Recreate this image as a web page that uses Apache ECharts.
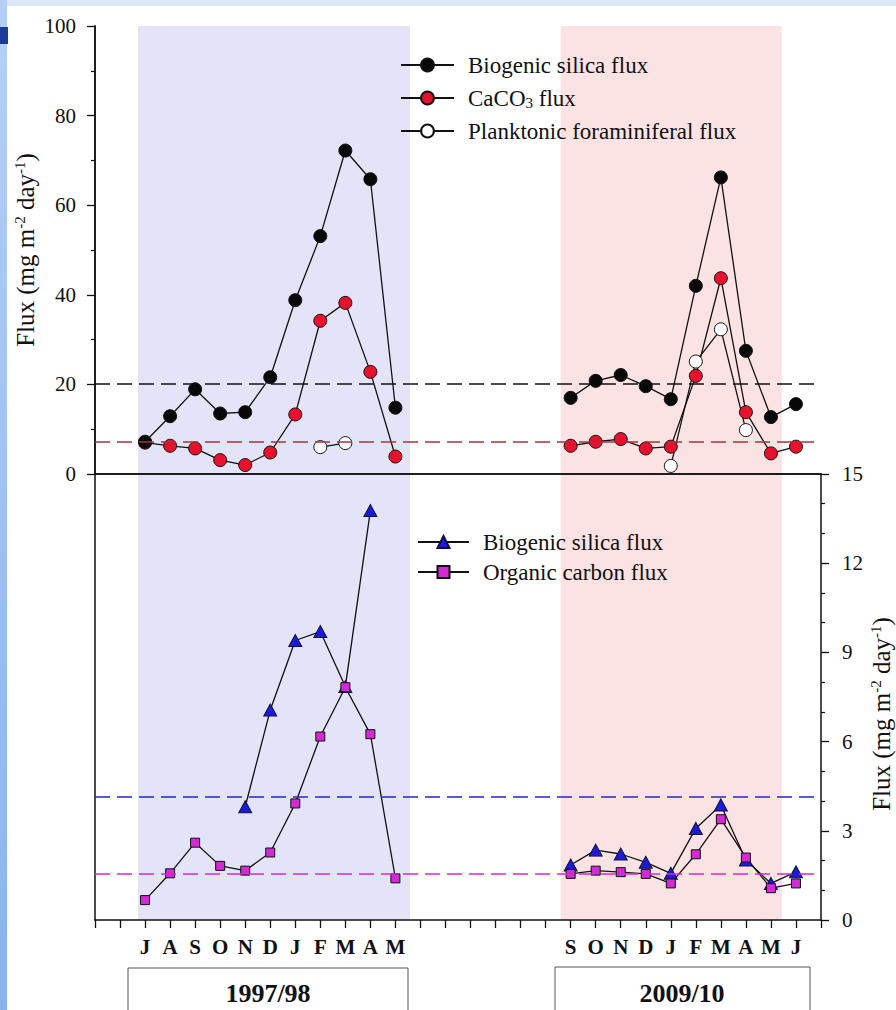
<!DOCTYPE html>
<html><head><meta charset="utf-8">
<script src="https://cdn.jsdelivr.net/npm/echarts@6/dist/echarts.min.js"></script>
<style>
html,body{margin:0;padding:0;width:896px;height:1010px;overflow:hidden;background:#fff;}
#stripTop{position:absolute;left:0;top:0;width:896px;height:6px;background:#dbe8f8;}
#stripLeft{position:absolute;left:0;top:0;width:7px;height:1010px;background:linear-gradient(#b4d0f6,#86b4ee);}
#blk{position:absolute;left:0;top:27px;width:8px;height:17px;background:#1a3c9c;}
#chart{position:absolute;left:0;top:0;width:896px;height:1010px;}
</style></head><body>
<div id="stripTop"></div><div id="stripLeft"></div><div id="blk"></div>
<div id="chart"></div>
<script>
// x positions: one slot per month; labels per slot
const monthLabels = ['', '', 'J','A','S','O','N','D','J','F','M','A','M','','','','','','','S','O','N','D','J','F','M','A','M','J',''];
const periods = ['1997/98', '2009/10'];
const start97 = 2;   // slot of first month (J) of 1997/98
const start09 = 19;  // slot of first month (S) of 2009/10
const shade97 = [1.72, 12.58];
const shade09 = [18.6, 27.43];

// Top panel (mg m-2 day-1), 1997/98: J A S O N D J F M A M
const bsi97   = [7.2, 12.9, 18.9, 13.5, 13.8, 21.6, 38.8, 53.1, 72.2, 65.8, 14.8];
const caco97  = [7.0, 6.3, 5.7, 3.1, 2.0, 4.8, 13.3, 34.2, 38.2, 22.8, 3.9];
const foram97 = [null, null, null, null, null, null, null, 6.0, 6.9, null, null];
// 2009/10: S O N D J F M A M J
const bsi09   = [17.0, 20.8, 22.1, 19.6, 16.7, 42.0, 66.2, 27.5, 12.7, 15.6];
const caco09  = [6.3, 7.2, 7.8, 5.7, 6.1, 21.9, 43.7, 13.8, 4.6, 6.1];
const foram09 = [null, null, null, null, 1.8, 25.1, 32.3, 9.8, null, null];
const meanTop = [20.2, 7.1];          // biogenic silica, CaCO3

// Bottom panel
const bsiB97  = [null, null, null, null, 3.81, 7.06, 9.40, 9.70, 7.85, 13.77, null];
const corg97  = [0.67, 1.57, 2.6, 1.82, 1.66, 2.27, 3.92, 6.17, 7.83, 6.25, 1.40];
const bsiB09  = [1.85, 2.35, 2.22, 1.94, 1.57, 3.08, 3.87, 2.02, 1.23, 1.62];
const corg09  = [1.55, 1.66, 1.61, 1.55, 1.23, 2.21, 3.39, 2.10, 1.07, 1.23];
const meanBottom = [4.14, 1.55];      // biogenic silica, organic carbon

function pts(x0, vals){ return vals.map((v,i)=>[x0+i, v==null?'-':v]); }
function both(a, b){ return pts(start97, a).concat([[15,'-']], pts(start09, b)); }

const FONT = "'Liberation Serif','Times New Roman',serif";
const INK = '#111';
const lineSt = {color: INK, width: 1.3};
const shadeArea = {silent:true, itemStyle:{color:'#e4e4f8'}, data:[
  [{xAxis: shade97[0], itemStyle:{color:'#e4e4f8'}}, {xAxis: shade97[1]}],
  [{xAxis: shade09[0], itemStyle:{color:'#fce3e3'}}, {xAxis: shade09[1]}]
]};
function meanLine(v, color){
  return {silent:true, symbol:'none', label:{show:false},
    lineStyle:{color:color, type:[15,7], width:1.6}, data:[{yAxis:v}]};
}
function nameStyle(pad){
  return {
    fontFamily: FONT, fontSize: 25, color: INK, lineHeight: 27, padding: pad,
    rich: {sup: {fontFamily: FONT, fontSize: 15, color: INK, lineHeight: 16, verticalAlign: 'top'}}
  };
}
const axisName = 'Flux (mg m{sup|-2} day{sup|-1})';
const legendText = {
  fontFamily: FONT, fontSize: 23, color: INK, lineHeight: 24, padding:[0,0,0,9],
  rich: {sub: {fontFamily: FONT, fontSize: 15, color: INK, lineHeight: 8, verticalAlign: 'bottom'}}
};
const axLine = {show:true, lineStyle:{color: INK, width:1.5}};

const option = {
  animation: false,
  grid: [
    {left:95, top:26, width:726, height:448, outerBoundsMode:'none'},
    {left:95, top:474, width:726, height:446, outerBoundsMode:'none'}
  ],
  xAxis: [
    {gridIndex:0, type:'value', min:0, max:29, interval:1, position:'top', z:3,
     axisLine:axLine, axisTick:{show:false}, axisLabel:{show:false}, splitLine:{show:false}},
    {gridIndex:0, type:'value', min:0, max:29, interval:1, position:'bottom', z:3,
     axisLine:axLine, axisTick:{show:false}, axisLabel:{show:false}, splitLine:{show:false}},
    {gridIndex:1, type:'value', min:0, max:29, interval:1, position:'bottom', z:3,
     axisLine:axLine, axisTick:{show:true, length:8, lineStyle:{color:INK, width:1.3}},
     axisLabel:{show:true, margin:16, fontFamily:FONT, fontSize:21, fontWeight:'bold', color:INK,
       formatter: v => monthLabels[v] || ''},
     splitLine:{show:false}}
  ],
  yAxis: [
    {gridIndex:0, type:'value', min:0, max:100, interval:20, position:'left', z:3,
     axisLine:axLine, axisTick:{show:true, length:8, lineStyle:{color:INK, width:1.3}},
     minorTick:{show:true, splitNumber:2, length:4, lineStyle:{color:INK, width:1.2}},
     axisLabel:{margin:19, fontFamily:FONT, fontSize:21, color:INK}, splitLine:{show:false},
     name: axisName, nameLocation:'middle', nameGap:56, nameRotate:90, nameMoveOverlap:false,
     nameTextStyle: nameStyle(0)},
    {gridIndex:0, type:'value', min:0, max:100, position:'right', z:3,
     axisLine:axLine, axisTick:{show:false}, axisLabel:{show:false}, splitLine:{show:false}},
    {gridIndex:1, type:'value', min:0, max:15, position:'left', z:3,
     axisLine:axLine, axisTick:{show:false}, axisLabel:{show:false}, splitLine:{show:false}},
    {gridIndex:1, type:'value', min:0, max:15, interval:3, position:'right', z:3,
     axisLine:axLine, axisTick:{show:true, length:8, lineStyle:{color:INK, width:1.3}},
     minorTick:{show:true, splitNumber:3, length:4, lineStyle:{color:INK, width:1.2}},
     axisLabel:{margin:21, fontFamily:FONT, fontSize:21, color:INK}, splitLine:{show:false},
     name: axisName, nameLocation:'middle', nameGap:47, nameRotate:90, nameMoveOverlap:false,
     nameTextStyle: nameStyle([0,34,0,0])}
  ],
  legend: [
    {data:['Biogenic silica flux','CaCO3 flux','Planktonic foraminiferal flux'],
     orient:'vertical', left:400, top:53, padding:0, itemWidth:53, itemHeight:16, itemGap:9,
     selectedMode:false, textStyle: legendText,
     formatter: n => n === 'CaCO3 flux' ? 'CaCO{sub|3} flux' : n},
    {data:['Biogenic silica flux ','Organic carbon flux'],
     orient:'vertical', left:417, top:530, padding:0, itemWidth:51, itemHeight:15, itemGap:6,
     selectedMode:false, textStyle: legendText,
     formatter: n => n.trim()}
  ],
  series: [
    {name:'CaCO3 flux', type:'line', xAxisIndex:1, yAxisIndex:0, data: both(caco97, caco09),
     symbol:'circle', symbolSize:13, lineStyle:lineSt,
     itemStyle:{color:'#e8112d', borderColor:INK, borderWidth:1},
     markArea: shadeArea, markLine: meanLine(meanTop[1], '#a8323e')},
    {name:'Planktonic foraminiferal flux', type:'line', xAxisIndex:1, yAxisIndex:0, data: both(foram97, foram09),
     symbol:'circle', symbolSize:13, lineStyle:lineSt,
     itemStyle:{color:'#ffffff', borderColor:INK, borderWidth:1}},
    {name:'Biogenic silica flux', type:'line', xAxisIndex:1, yAxisIndex:0, data: both(bsi97, bsi09),
     symbol:'circle', symbolSize:13, lineStyle:lineSt,
     itemStyle:{color:'#080808', borderColor:INK, borderWidth:1},
     markLine: meanLine(meanTop[0], '#111')},
    {name:'Biogenic silica flux ', type:'line', xAxisIndex:2, yAxisIndex:3, data: both(bsiB97, bsiB09),
     symbol:'triangle', symbolSize:[13,12], lineStyle:lineSt,
     itemStyle:{color:'#1c1cd8', borderColor:'#101040', borderWidth:1},
     markArea: shadeArea, markLine: meanLine(meanBottom[0], '#2424d0')},
    {name:'Organic carbon flux', type:'line', xAxisIndex:2, yAxisIndex:3, data: both(corg97, corg09),
     symbol:'rect', symbolSize:9, lineStyle:lineSt,
     itemStyle:{color:'#d42ad4', borderColor:INK, borderWidth:1},
     markLine: meanLine(meanBottom[1], '#e020e0')}
  ],
  graphic: [
    {type:'rect', shape:{x:128, y:968, width:280, height:60}, style:{fill:'none', stroke:'#555', lineWidth:1}},
    {type:'text', x:268, y:993, style:{text:periods[0], font:"bold 26px 'Liberation Serif'", fill:INK, align:'center', verticalAlign:'middle'}},
    {type:'rect', shape:{x:555, y:967, width:255, height:60}, style:{fill:'none', stroke:'#555', lineWidth:1}},
    {type:'text', x:682, y:993, style:{text:periods[1], font:"bold 26px 'Liberation Serif'", fill:INK, align:'center', verticalAlign:'middle'}}
  ]
};
const chart = echarts.init(document.getElementById('chart'), null, {renderer:'svg'});
chart.setOption(option);
</script>
</body></html>
